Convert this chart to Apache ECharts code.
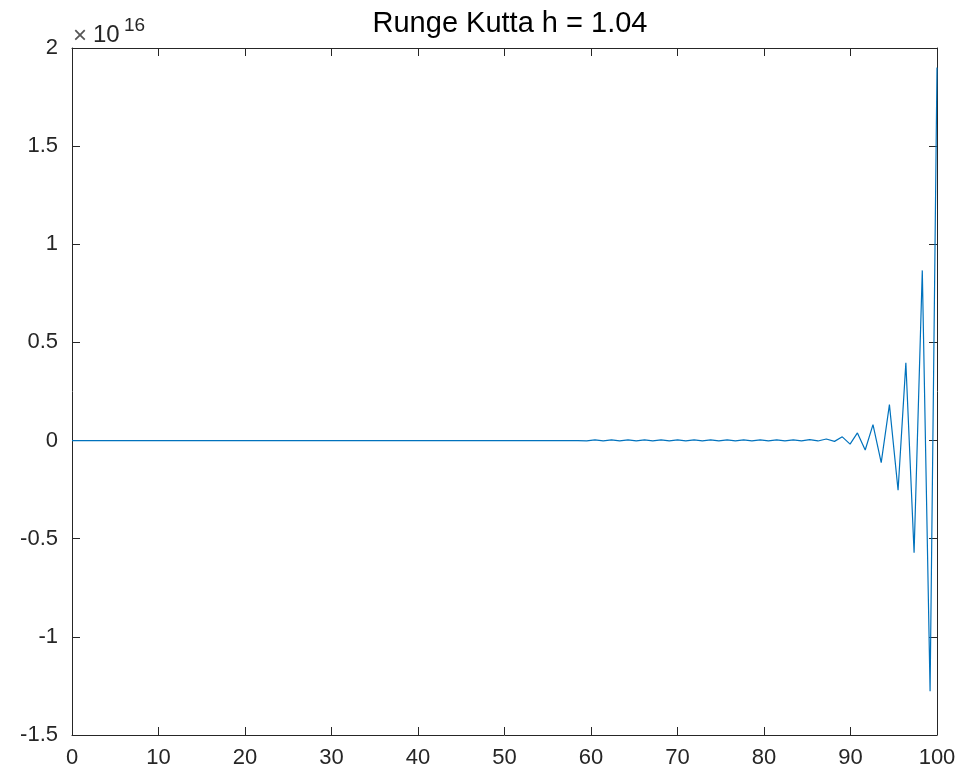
<!DOCTYPE html>
<html>
<head>
<meta charset="utf-8">
<script src="https://cdn.jsdelivr.net/npm/echarts@6/dist/echarts.min.js"></script>
<style>
html,body{margin:0;padding:0;background:#fff;}
#chart{width:964px;height:778px;}
</style>
</head>
<body>
<div id="chart"></div>
<script>
// Data (y values in units of 1e16)
var titleText = 'Runge Kutta h = 1.04';
var xTicks = [0, 10, 20, 30, 40, 50, 60, 70, 80, 90, 100];
var yTicks = [-1.5, -1, -0.5, 0, 0.5, 1, 1.5, 2];
var tValues = [
  0, 58.5,
  59.50, 60.46, 61.41, 62.37, 63.32, 64.28, 65.23, 66.19, 67.14, 68.10,
  69.05, 70.01, 70.96, 71.92, 72.87, 73.83, 74.78, 75.74, 76.69, 77.65,
  78.60, 79.56, 80.51, 81.47, 82.42, 83.38, 84.33, 85.29, 86.24, 87.20,
  88.15, 89.05, 89.95, 90.80, 91.70, 92.60, 93.55, 94.50, 95.50, 96.40,
  97.35, 98.30, 99.20, 100
];
var yValues = [
  0, 0,
  -0.002, 0.004, -0.002, 0.004, -0.002, 0.004, -0.002, 0.004, -0.002, 0.004,
  -0.002, 0.004, -0.002, 0.004, -0.002, 0.004, -0.002, 0.004, -0.002, 0.004,
  -0.002, 0.004, -0.002, 0.004, -0.002, 0.004, -0.002, 0.005, -0.002, 0.008,
  -0.004, 0.019, -0.018, 0.039, -0.048, 0.081, -0.112, 0.183, -0.253, 0.396,
  -0.572, 0.867, -1.277, 1.90
];
var exponentTimes = '\u00d7';
var exponentBase = '10';
var exponentPower = '16';

var seriesData = tValues.map(function (t, i) { return [t, yValues[i]]; });

var axisColor = '#262626';
var fontFam = "'Liberation Sans', Arial, Helvetica, sans-serif";

var chart = echarts.init(document.getElementById('chart'), null, {renderer: 'canvas'});
function baseX(pos, showLabel) {
  return {
    type: 'value', position: pos, min: xTicks[0], max: xTicks[xTicks.length - 1], interval: 10,
    axisLine: {show: true, onZero: false, lineStyle: {color: axisColor, width: 1}},
    axisTick: {show: true, inside: true, length: 8, lineStyle: {color: axisColor, width: 1}},
    axisLabel: {show: showLabel, color: axisColor, fontSize: 22, fontFamily: fontFam, margin: 12},
    splitLine: {show: false}
  };
}
function baseY(pos, showLabel) {
  return {
    type: 'value', position: pos, min: yTicks[0], max: yTicks[yTicks.length - 1], interval: 0.5,
    axisLine: {show: true, onZero: false, lineStyle: {color: axisColor, width: 1}},
    axisTick: {show: true, inside: true, length: 8, lineStyle: {color: axisColor, width: 1}},
    axisLabel: {show: showLabel, color: axisColor, fontSize: 22, fontFamily: fontFam, margin: 14},
    splitLine: {show: false}
  };
}
chart.setOption({
  animation: false,
  backgroundColor: '#ffffff',
  title: {
    text: titleText, left: 505, top: 4, textAlign: 'center',
    textStyle: {color: '#000', fontSize: 29, fontWeight: 'normal', fontFamily: fontFam}
  },
  grid: {left: 72, right: 27, top: 48, bottom: 43, containLabel: false},
  xAxis: [baseX('bottom', true), baseX('top', false)],
  yAxis: [baseY('left', true), baseY('right', false)],
  graphic: [
    {type: 'text', left: 73, top: 24, style: {text: exponentTimes, fill: '#555', font: '24px ' + fontFam}},
    {type: 'text', left: 93, top: 23, style: {text: exponentBase, fill: axisColor, font: '24px ' + fontFam}},
    {type: 'text', left: 124, top: 16, style: {text: exponentPower, fill: axisColor, font: '19px ' + fontFam}}
  ],
  series: [{
    type: 'line', data: seriesData, xAxisIndex: 0, yAxisIndex: 0,
    showSymbol: false, symbol: 'none', clip: true,
    lineStyle: {color: '#0072BD', width: 1.2}
  }]
});
</script>
</body>
</html>
